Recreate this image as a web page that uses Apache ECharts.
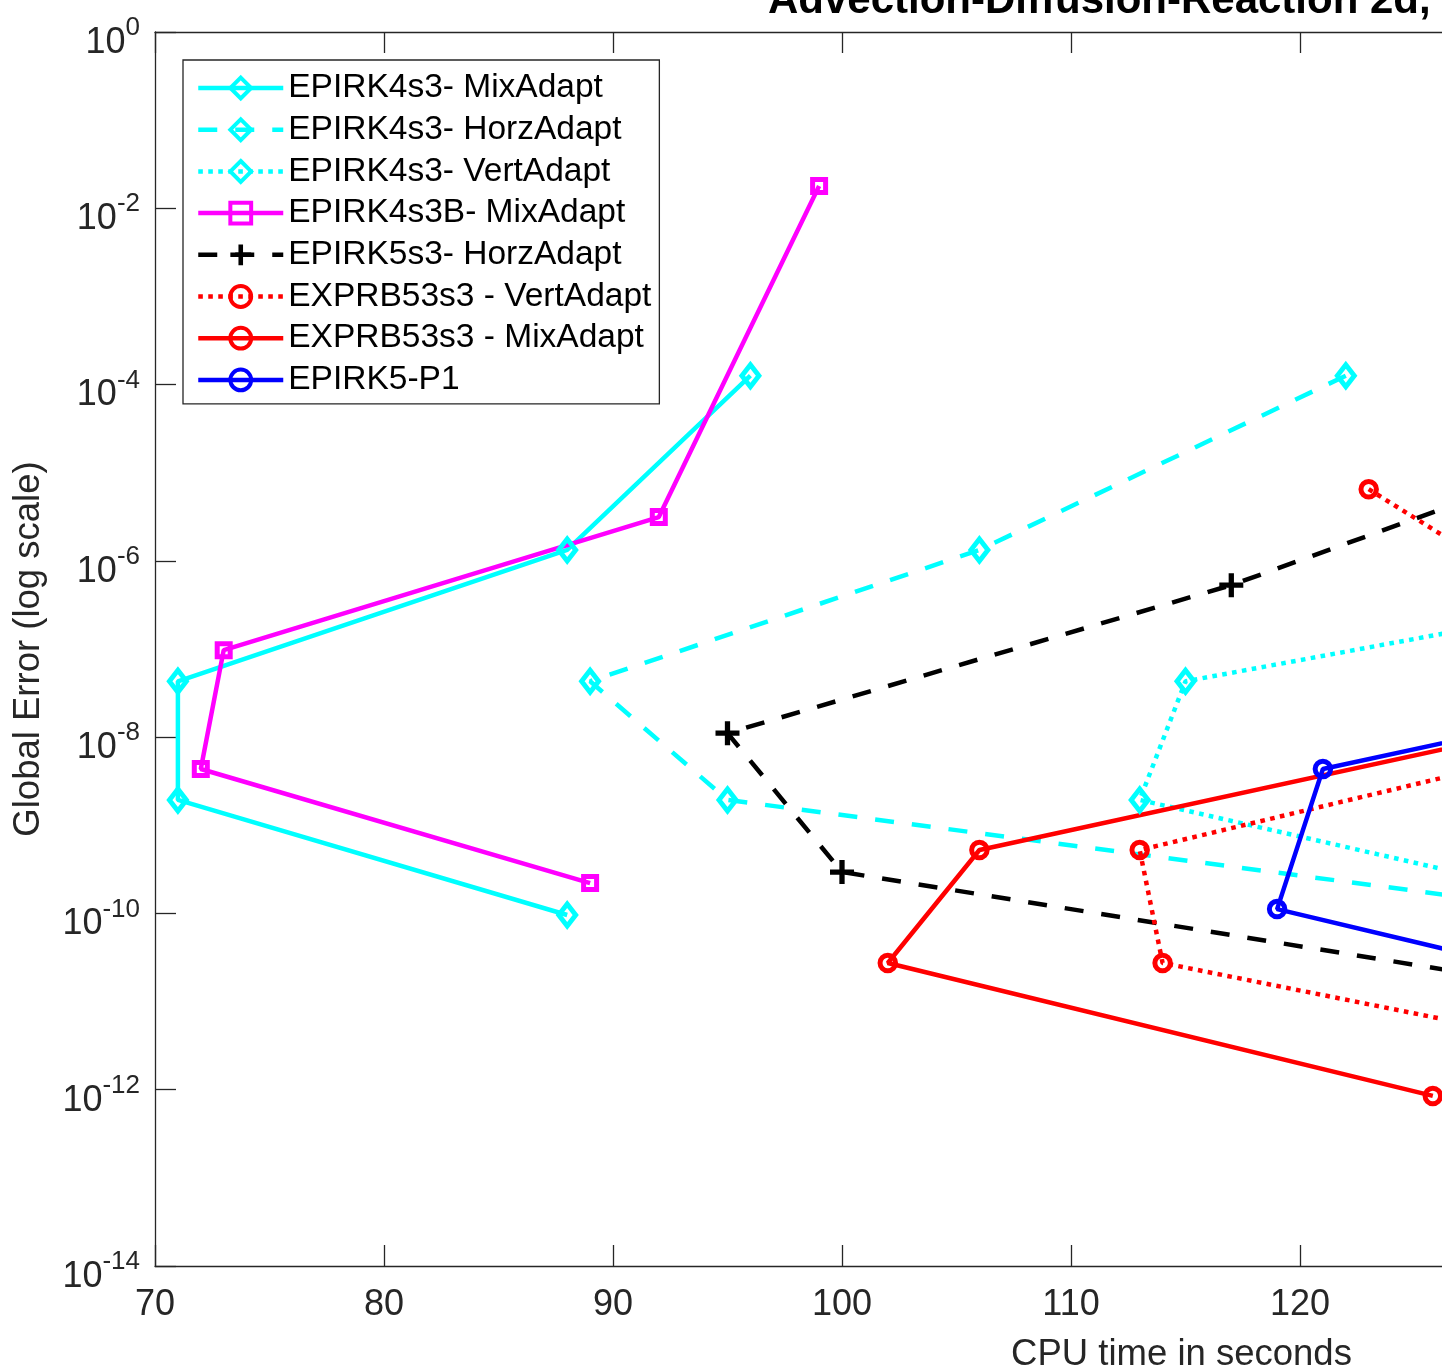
<!DOCTYPE html>
<html><head><meta charset="utf-8">
<script src="https://cdn.jsdelivr.net/npm/echarts@6/dist/echarts.min.js"></script>
<style>html,body{margin:0;padding:0;background:#fff}#c{width:1442px;height:1372px}</style>
</head><body><div id="c"></div>
<script>
const FONT = "'Liberation Sans', Arial, Helvetica, sans-serif";
const AX = '#262626';
const titleText = 'Advection-Diffusion-Reaction 2d, N = 100';
const xAxisName = 'CPU time in seconds';
const yAxisName = 'Global Error (log scale)';
const xMin = 70, xMax = 160, xStep = 10;
const yMin = 1e-14, yMax = 1;

const seriesNames = [
  'EPIRK4s3- MixAdapt', 'EPIRK4s3- HorzAdapt', 'EPIRK4s3- VertAdapt',
  'EPIRK4s3B- MixAdapt', 'EPIRK5s3- HorzAdapt', 'EXPRB53s3 - VertAdapt',
  'EXPRB53s3 - MixAdapt', 'EPIRK5-P1'
];
const cpu_EPIRK4s3_Mix   = [96, 88, 71, 71, 88];
const err_EPIRK4s3_Mix   = [1.26e-4, 1.33e-6, 4.3e-8, 1.94e-9, 9.6e-11];
const cpu_EPIRK4s3_Horz  = [122, 106, 89, 95, 133];
const err_EPIRK4s3_Horz  = [1.26e-4, 1.33e-6, 4.3e-8, 1.94e-9, 9.6e-11];
const cpu_EPIRK4s3_Vert  = [146, 115, 113, 135];
const err_EPIRK4s3_Vert  = [1.33e-6, 4.3e-8, 1.94e-9, 9.6e-11];
const cpu_EPIRK4s3B_Mix  = [99, 92, 73, 72, 89];
const err_EPIRK4s3B_Mix  = [1.79e-2, 3.14e-6, 9.7e-8, 4.35e-9, 2.21e-10];
const cpu_EPIRK5s3_Horz  = [135, 117, 95, 100, 136];
const err_EPIRK5s3_Horz  = [2.6e-5, 5.3e-7, 1.11e-8, 2.95e-10, 9e-12];
const cpu_EXPRB53s3_Vert = [123, 138.5, 113, 114, 143];
const err_EXPRB53s3_Vert = [6.5e-6, 2e-8, 5.24e-10, 2.74e-11, 8.5e-13];
const cpu_EXPRB53s3_Mix  = [134, 106, 102, 125.8];
const err_EXPRB53s3_Mix  = [2e-8, 5.24e-10, 2.74e-11, 8.5e-13];
const cpu_EPIRK5_P1      = [145, 121, 119, 140];
const err_EPIRK5_P1      = [9.7e-8, 4.35e-9, 1.12e-10, 5.6e-12];

const zip = (xs, ys) => xs.map((x, i) => [x, ys[i]]);
const PLUS = 'path://M3.9,0H6.1V3.9H10V6.1H6.1V10H3.9V6.1H0V3.9H3.9Z';
const DASH = [19, 18], DOT = [4.6, 5.4];
const LW = 4.5;

function mk(name, data, color, dash, symbol, size) {
  const hollow = symbol !== PLUS;
  return {
    name, type: 'line', data, symbol, symbolSize: size,
    showSymbol: true, showAllSymbol: true, clip: true,
    lineStyle: { color, width: LW, type: dash || 'solid', cap: 'butt' },
    itemStyle: hollow ? { color: 'rgba(255,255,255,0)', borderColor: color, borderWidth: 5 }
                      : { color, borderWidth: 0 },
    emphasis: { disabled: true }
  };
}

const series = [
  mk(seriesNames[0], zip(cpu_EPIRK4s3_Mix, err_EPIRK4s3_Mix), '#00FFFF', null, 'diamond', [17, 22]),
  mk(seriesNames[1], zip(cpu_EPIRK4s3_Horz, err_EPIRK4s3_Horz), '#00FFFF', DASH, 'diamond', [17, 22]),
  mk(seriesNames[2], zip(cpu_EPIRK4s3_Vert, err_EPIRK4s3_Vert), '#00FFFF', DOT, 'diamond', [17, 22]),
  mk(seriesNames[3], zip(cpu_EPIRK4s3B_Mix, err_EPIRK4s3B_Mix), '#FF00FF', null, 'rect', 13),
  mk(seriesNames[4], zip(cpu_EPIRK5s3_Horz, err_EPIRK5s3_Horz), '#000000', DASH, PLUS, 24),
  mk(seriesNames[5], zip(cpu_EXPRB53s3_Vert, err_EXPRB53s3_Vert), '#FF0000', DOT, 'circle', 15.5),
  mk(seriesNames[6], zip(cpu_EXPRB53s3_Mix, err_EXPRB53s3_Mix), '#FF0000', null, 'circle', 15.5),
  mk(seriesNames[7], zip(cpu_EPIRK5_P1, err_EPIRK5_P1), '#0000FF', null, 'circle', 15.5)
];

const chart = echarts.init(document.getElementById('c'), null, { renderer: 'canvas' });
const axisCommon = {
  axisLine: { show: true, lineStyle: { color: AX, width: 1.3 } },
  axisTick: { show: true, inside: true, length: 21, lineStyle: { color: AX, width: 1.3 } },
  splitLine: { show: false }
};
chart.setOption({
  animation: false,
  backgroundColor: '#fff',
  title: {
    text: titleText, left: 768, top: -20, padding: 0,
    textStyle: { fontFamily: FONT, fontSize: 42, fontWeight: 'bold', color: '#000' }
  },
  grid: { left: 155, top: 32, width: 2061, height: 1234, outerBoundsMode: 'none', containLabel: false },
  legend: {
    orient: 'vertical', left: 183, top: 60, padding: [11, 8, 7, 13],
    itemWidth: 85, itemHeight: 26, itemGap: 7.7,
    backgroundColor: '#fff', borderColor: AX, borderWidth: 1.3,
    lineStyle: { width: 4.5 },
    itemStyle: { borderWidth: 4 },
    textStyle: { fontFamily: FONT, fontSize: 33.5, lineHeight: 34, color: '#000' },
    data: seriesNames, selectedMode: false
  },
  xAxis: [
    Object.assign({
      type: 'value', min: xMin, max: xMax, interval: xStep, position: 'bottom',
      name: xAxisName, nameLocation: 'middle', nameGap: 70,
      nameTextStyle: { fontFamily: FONT, fontSize: 36.5, color: AX, padding: [0, 8, 0, 0] },
      axisLabel: { fontFamily: FONT, fontSize: 36, color: AX, margin: 21 }
    }, axisCommon),
    Object.assign({
      type: 'value', min: xMin, max: xMax, interval: xStep, position: 'top',
      axisLabel: { show: false }
    }, axisCommon)
  ],
  yAxis: Object.assign({
    type: 'log', logBase: 100, min: yMin, max: yMax,
    name: yAxisName, nameLocation: 'middle', nameRotate: 90, nameGap: 108,
    nameTextStyle: { fontFamily: FONT, fontSize: 36.5, color: AX },
    axisLabel: {
      margin: 15, padding: [12, 0, 0, 0],
      formatter: v => '{b|10}{s|' + Math.round(Math.log10(v)) + '}',
      rich: {
        b: { fontFamily: FONT, fontSize: 36, lineHeight: 46, verticalAlign: 'bottom', color: AX },
        s: { fontFamily: FONT, fontSize: 26, lineHeight: 26, verticalAlign: 'top', color: AX }
      }
    }
  }, axisCommon),
  series
});
</script></body></html>
